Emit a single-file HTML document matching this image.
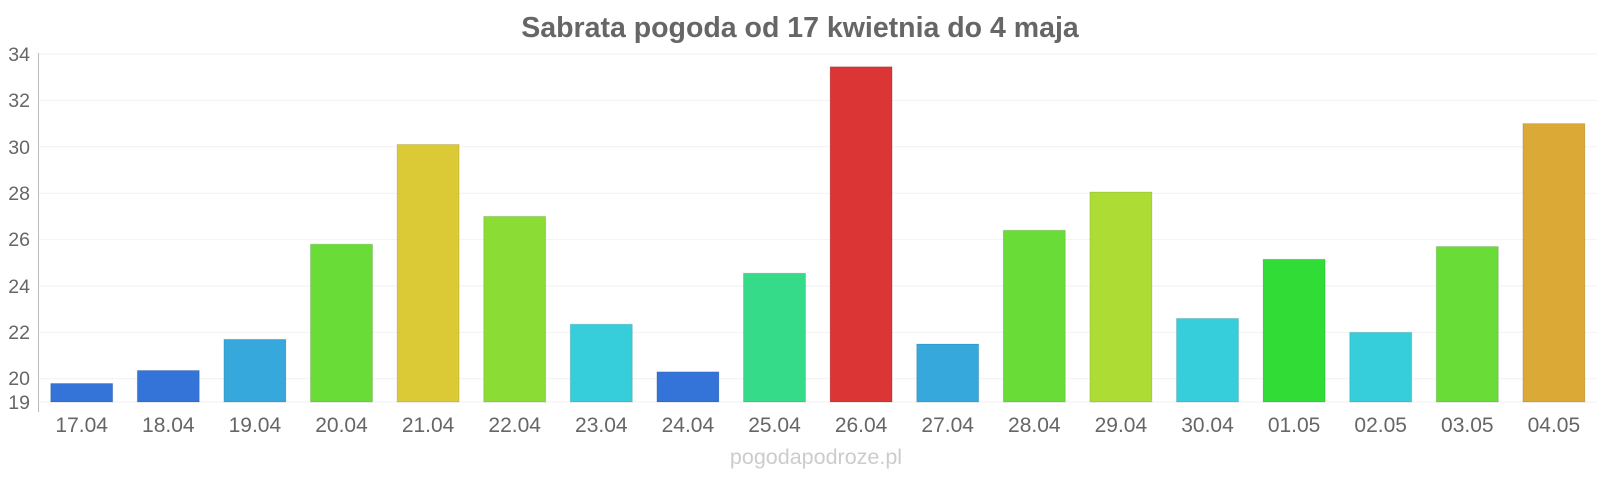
<!DOCTYPE html><html><head><style>body{margin:0;background:#fff}</style></head><body>
<svg width="1600" height="480" xmlns="http://www.w3.org/2000/svg" font-family="Liberation Sans, sans-serif">
<text x="800" y="37" text-anchor="middle" font-size="28.5" font-weight="bold" fill="#666">Sabrata pogoda od 17 kwietnia do 4 maja</text>
<g stroke="#f2f2f2" stroke-width="1">
<line x1="38" x2="1597" y1="54" y2="54"/><line x1="38" x2="1597" y1="100.4" y2="100.4"/><line x1="38" x2="1597" y1="146.8" y2="146.8"/><line x1="38" x2="1597" y1="193.2" y2="193.2"/><line x1="38" x2="1597" y1="239.6" y2="239.6"/><line x1="38" x2="1597" y1="286" y2="286"/><line x1="38" x2="1597" y1="332.4" y2="332.4"/><line x1="38" x2="1597" y1="378.8" y2="378.8"/><line x1="38" x2="1597" y1="402" y2="402"/>
</g>
<line x1="38.5" x2="38.5" y1="53" y2="412" stroke="#bbb"/>
<g font-size="19.5" fill="#666" text-anchor="end">
<text x="30" y="61">34</text><text x="30" y="107">32</text><text x="30" y="154">30</text><text x="30" y="200">28</text><text x="30" y="246">26</text><text x="30" y="293">24</text><text x="30" y="339">22</text><text x="30" y="385">20</text><text x="30" y="409">19</text>
</g>
<g id="bars"></g>
<g id="labels" font-size="21" fill="#666" text-anchor="middle"></g>
<text x="816" y="464" text-anchor="middle" font-size="21.5" fill="#ccc">pogodapodroze.pl</text>
<script>
var v=[19.8,20.36,21.7,25.8,30.1,27,22.35,20.3,24.55,33.45,21.5,26.4,28.05,22.6,25.15,22,25.7,31];
var c=["#3474d9","#3474d9","#36a8db","#6adc38","#dbca35","#8bdc35","#36cedb","#3474d9","#36db8a","#db3535","#36a8db","#6adc38","#addc35","#36cedb","#30dc35","#36cedb","#6adc38","#dba935"];
var l=["17.04","18.04","19.04","20.04","21.04","22.04","23.04","24.04","25.04","26.04","27.04","28.04","29.04","30.04","01.05","02.05","03.05","04.05"];
var ns="http://www.w3.org/2000/svg",b=document.getElementById("bars"),t=document.getElementById("labels");
for(var i=0;i<18;i++){var cx=81.7+i*86.6,y=402-(v[i]-19)*23.2;
var r=document.createElementNS(ns,"rect");r.setAttribute("x",cx-31);r.setAttribute("y",y);r.setAttribute("width",62);r.setAttribute("height",402-y);r.setAttribute("fill",c[i]);r.setAttribute("stroke","rgba(0,0,0,0.12)");b.appendChild(r);
var tx=document.createElementNS(ns,"text");tx.setAttribute("x",cx);tx.setAttribute("y",432);tx.textContent=l[i];t.appendChild(tx);}
</script>
</svg></body></html>
